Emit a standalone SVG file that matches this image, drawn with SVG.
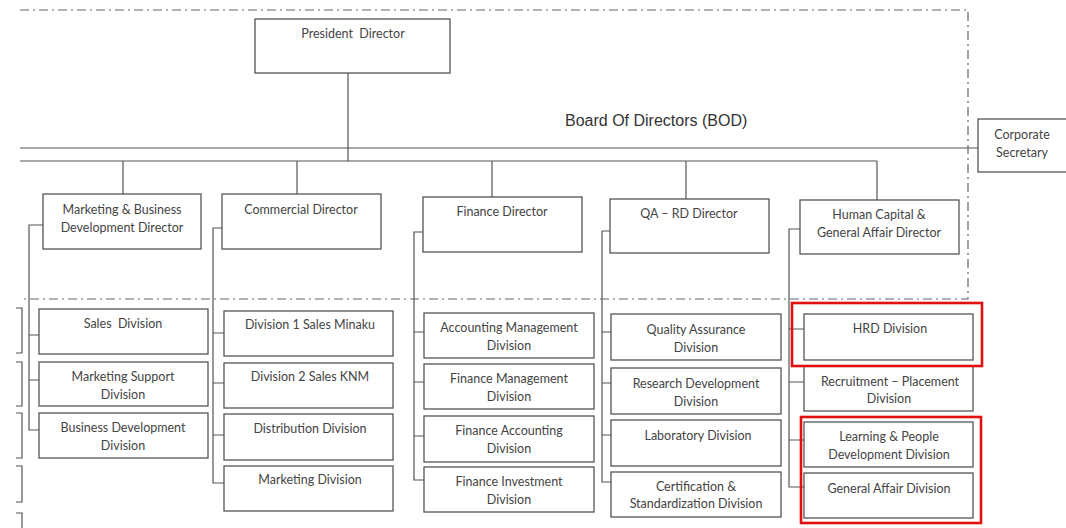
<svg xmlns="http://www.w3.org/2000/svg" width="1066" height="528" viewBox="0 0 1066 528">
<style>
.bx{fill:#fff;stroke:#555;stroke-width:1.3}
.ln{fill:none;stroke:#555;stroke-width:1.2}
.dd{fill:none;stroke:#666;stroke-width:1.2;stroke-dasharray:9 4 2 4}
.hl{fill:none;stroke:#e01010;stroke-width:2.6}
.t{font-family:Lato,"Open Sans","Liberation Sans",sans-serif;font-size:12.5px;fill:#444;text-anchor:middle;white-space:pre}
.b{font-family:"Liberation Sans",Arial,sans-serif;font-size:16px;fill:#333}
</style>
<rect width="1066" height="528" fill="#fff"/>
<g id="frame">
<path class="dd" d="M20 10 H968 V299 H20"/>
<path class="ln" d="M16 308 H22 V353 H16 M16 362 H22 V406 H16 M16 413 H22 V458 H16 M16 466 H22 V502 H16 M16 513 H22 V528"/>
<rect x="589" y="447" width="3" height="4" fill="#222"/>
</g>
<g id="connectors">
<path class="ln" d="M348 73 V161"/>
<path class="ln" d="M20 148 H978"/>
<path class="ln" d="M20 161 H877"/>
<path class="ln" d="M123 161 V194 M297 161 V194 M492 161 V197 M686 161 V199 M877 161 V200"/>
<path class="ln" d="M43 225 H29 V430 H39 M29 335 H39 M29 380 H39"/>
<path class="ln" d="M222 228 H213 V483 H224 M213 333 H224 M213 383 H224 M213 435 H224"/>
<path class="ln" d="M423 232 H414 V480 H424 M414 332 H424 M414 382 H424 M414 436 H424"/>
<path class="ln" d="M610 231 H602 V482 H611 M602 332 H611 M602 383 H611 M602 435 H611"/>
<path class="ln" d="M800 229 H789 V487 H804 M789 329 H804 M789 382 H804 M789 440 H804"/>
</g>
<g id="president"><rect class="bx" x="255" y="19" width="195" height="54"/><text class="t" x="353" y="38" xml:space="preserve">President  Director</text></g>
<text class="b" x="565" y="126">Board Of Directors (BOD)</text>
<g id="corp-sec"><rect class="bx" x="978" y="119" width="92" height="53"/><text class="t" x="1022" y="139">Corporate</text><text class="t" x="1022" y="157">Secretary</text></g>
<g id="dir-mbd"><rect class="bx" x="43" y="194" width="158" height="55"/><text class="t" x="122" y="214">Marketing &amp; Business</text><text class="t" x="122" y="232">Development Director</text></g>
<g id="dir-com"><rect class="bx" x="222" y="194" width="159" height="55"/><text class="t" x="301" y="214">Commercial Director</text></g>
<g id="dir-fin"><rect class="bx" x="423" y="197" width="159" height="55"/><text class="t" x="502" y="216">Finance Director</text></g>
<g id="dir-qa"><rect class="bx" x="610" y="199" width="159" height="54"/><text class="t" x="689" y="218">QA – RD Director</text></g>
<g id="dir-hc"><rect class="bx" x="800" y="200" width="159" height="54"/><text class="t" x="879" y="219">Human Capital &amp;</text><text class="t" x="879" y="237">General Affair Director</text></g>
<g id="sales"><rect class="bx" x="39" y="309" width="169" height="45"/><text class="t" x="123" y="328" xml:space="preserve">Sales  Division</text></g>
<g id="mkt-support"><rect class="bx" x="39" y="362" width="169" height="44"/><text class="t" x="123" y="381">Marketing Support</text><text class="t" x="123" y="399">Division</text></g>
<g id="bus-dev"><rect class="bx" x="39" y="413" width="169" height="45"/><text class="t" x="123" y="432">Business Development</text><text class="t" x="123" y="450">Division</text></g>
<g id="div1"><rect class="bx" x="224" y="311" width="169" height="45"/><text class="t" x="310" y="329">Division 1 Sales Minaku</text></g>
<g id="div2"><rect class="bx" x="224" y="363" width="169" height="45"/><text class="t" x="310" y="381">Division 2 Sales KNM</text></g>
<g id="distribution"><rect class="bx" x="224" y="414" width="169" height="46"/><text class="t" x="310" y="433">Distribution Division</text></g>
<g id="marketing"><rect class="bx" x="224" y="466" width="169" height="45"/><text class="t" x="310" y="484">Marketing Division</text></g>
<g id="acc-mgmt"><rect class="bx" x="424" y="313" width="170" height="45"/><text class="t" x="509" y="332">Accounting Management</text><text class="t" x="509" y="350">Division</text></g>
<g id="fin-mgmt"><rect class="bx" x="424" y="364" width="170" height="45"/><text class="t" x="509" y="383">Finance Management</text><text class="t" x="509" y="401">Division</text></g>
<g id="fin-acc"><rect class="bx" x="424" y="416" width="170" height="46"/><text class="t" x="509" y="435">Finance Accounting</text><text class="t" x="509" y="453">Division</text></g>
<g id="fin-inv"><rect class="bx" x="424" y="467" width="170" height="45"/><text class="t" x="509" y="486">Finance Investment</text><text class="t" x="509" y="504">Division</text></g>
<g id="qa"><rect class="bx" x="611" y="314" width="170" height="46"/><text class="t" x="696" y="334">Quality Assurance</text><text class="t" x="696" y="352">Division</text></g>
<g id="rd"><rect class="bx" x="611" y="368" width="170" height="46"/><text class="t" x="696" y="388">Research Development</text><text class="t" x="696" y="406">Division</text></g>
<g id="lab"><rect class="bx" x="611" y="420" width="170" height="46"/><text class="t" x="698" y="440">Laboratory Division</text></g>
<g id="cert"><rect class="bx" x="611" y="472" width="170" height="45"/><text class="t" x="696" y="491">Certification &amp;</text><text class="t" x="696" y="508">Standardization Division</text></g>
<g id="hrd"><rect class="bx" x="804" y="314" width="169" height="46"/><text class="t" x="890" y="333">HRD Division</text></g>
<g id="recruit"><rect class="bx" x="804" y="366" width="169" height="45"/><text class="t" x="890" y="386">Recruitment – Placement</text><text class="t" x="889" y="403">Division</text></g>
<g id="learning"><rect class="bx" x="804" y="422" width="169" height="45"/><text class="t" x="889" y="441">Learning &amp; People</text><text class="t" x="889" y="459">Development Division</text></g>
<g id="general-affair"><rect class="bx" x="804" y="473" width="169" height="45"/><text class="t" x="889" y="493">General Affair Division</text></g>
<g id="highlights">
<rect class="hl" x="792" y="303" width="190" height="63"/>
<rect class="hl" x="801" y="417" width="180" height="106"/>
</g>
</svg>
